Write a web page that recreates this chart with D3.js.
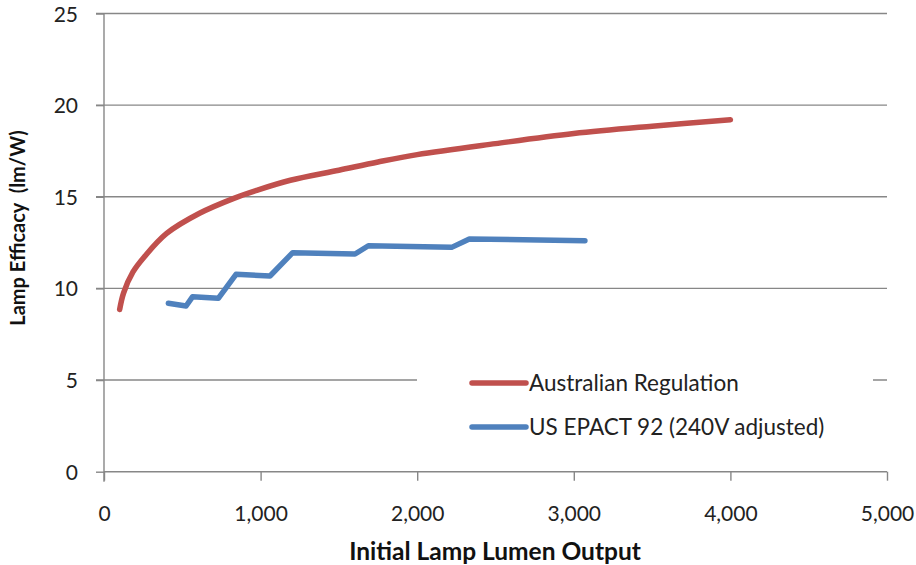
<!DOCTYPE html>
<html>
<head>
<meta charset="utf-8">
<script src="https://cdn.jsdelivr.net/npm/d3@7"></script>
<style>
  html, body { margin: 0; padding: 0; background: #fff; }
  svg { display: block; }
  text { font-family: Lato, "Open Sans", "Liberation Sans", sans-serif; }
</style>
</head>
<body>
<svg id="chart" width="916" height="565"></svg>
<script>
// Minimum lamp efficacy (lm/W) against initial lamp lumen output
const australianLumens   = [100, 125, 185, 260, 400, 610, 825, 975, 1190, 1500, 1750, 2000, 2500, 3000, 3500, 4000];
const australianEfficacy = [8.85, 9.75, 10.9, 11.75, 13.0, 14.1, 14.9, 15.35, 15.9, 16.45, 16.9, 17.3, 17.9, 18.45, 18.85, 19.2];

const epactLumens   = [411, 524, 566, 730, 843, 1060, 1205, 1603, 1688, 2220, 2333, 3071];
const epactEfficacy = [9.19, 9.04, 9.55, 9.46, 10.77, 10.68, 11.95, 11.88, 12.33, 12.24, 12.70, 12.60];

const seriesNames = ["Australian Regulation", "US EPACT 92 (240V adjusted)"];
const seriesColors = ["#C0504D", "#4F81BD"];

const xTicks = [0, 1000, 2000, 3000, 4000, 5000];
const yTicks = [0, 5, 10, 15, 20, 25];

const svg = d3.select("#chart");
const plotLeft = 104, plotRight = 887, plotTop = 13.5, plotBottom = 471.7;

const x = d3.scaleLinear().domain([0, 5000]).range([plotLeft, plotRight]);
const y = d3.scaleLinear().domain([0, 25]).range([plotBottom, plotTop]);

const gridColor = "#878787";

// horizontal gridlines (extend left through the tick marks)
svg.append("g")
  .selectAll("line")
  .data(yTicks.filter(d => d > 0))
  .join("line")
  .attr("x1", plotLeft - 8).attr("x2", plotRight)
  .attr("y1", d => y(d)).attr("y2", d => y(d))
  .attr("stroke", gridColor).attr("stroke-width", 1.4);

// y axis
const yAxis = svg.append("g")
  .attr("transform", `translate(${plotLeft},0)`)
  .call(d3.axisLeft(y).tickValues(yTicks).tickSize(8).tickPadding(18).tickFormat(d3.format("d")));
yAxis.select(".domain").attr("stroke", gridColor).attr("stroke-width", 1.4)
  .attr("d", `M0,${plotTop}V${plotBottom + 10}`);
yAxis.selectAll(".tick line").attr("stroke", gridColor).attr("stroke-width", 1.4);
yAxis.selectAll(".tick text").attr("font-size", 21).attr("fill", "#222").attr("dy", "0.36em");

// x axis
const xAxis = svg.append("g")
  .attr("transform", `translate(0,${plotBottom})`)
  .call(d3.axisBottom(x).tickValues(xTicks).tickSize(9).tickPadding(25).tickFormat(d3.format(",")));
xAxis.select(".domain").attr("stroke", gridColor).attr("stroke-width", 1.4)
  .attr("d", `M${plotLeft},0H${plotRight}`);
xAxis.selectAll(".tick line").attr("stroke", gridColor).attr("stroke-width", 1.4);
xAxis.selectAll(".tick text").attr("font-size", 21).attr("fill", "#222");

// legend background
svg.append("rect")
  .attr("x", 417).attr("y", 362).attr("width", 456).attr("height", 86)
  .attr("fill", "#fff");

// series lines
const redData = australianLumens.map((v, i) => [v, australianEfficacy[i]]);
const blueData = epactLumens.map((v, i) => [v, epactEfficacy[i]]);

svg.append("path")
  .datum(redData)
  .attr("fill", "none")
  .attr("stroke", seriesColors[0])
  .attr("stroke-width", 5.5)
  .attr("stroke-linecap", "round")
  .attr("stroke-linejoin", "round")
  .attr("d", d3.line().x(d => x(d[0])).y(d => y(d[1])).curve(d3.curveCatmullRom.alpha(0.5)));

svg.append("path")
  .datum(blueData)
  .attr("fill", "none")
  .attr("stroke", seriesColors[1])
  .attr("stroke-width", 5.5)
  .attr("stroke-linecap", "round")
  .attr("stroke-linejoin", "round")
  .attr("d", d3.line().x(d => x(d[0])).y(d => y(d[1])));

// legend
const legend = svg.append("g");
seriesNames.forEach((name, i) => {
  const ly = 383 + i * 44;
  legend.append("line")
    .attr("x1", 472).attr("x2", 526).attr("y1", ly).attr("y2", ly)
    .attr("stroke", seriesColors[i]).attr("stroke-width", 5.5).attr("stroke-linecap", "round");
  legend.append("text")
    .attr("x", 529).attr("y", ly).attr("dy", "0.36em")
    .attr("font-size", 22.5).attr("fill", "#222")
    .text(name);
});

// axis titles
svg.append("text")
  .attr("x", 495).attr("y", 560)
  .attr("text-anchor", "middle")
  .attr("font-size", 24.5).attr("font-weight", "bold").attr("fill", "#111")
  .text("Initial Lamp Lumen Output");

svg.append("text")
  .attr("transform", "translate(25,228) rotate(-90)")
  .attr("text-anchor", "middle")
  .attr("font-size", 20).attr("font-weight", "bold").attr("fill", "#111")
  .attr("xml:space", "preserve")
  .style("white-space", "pre")
  .text("Lamp Efficacy  (lm/W)");
</script>
</body>
</html>
